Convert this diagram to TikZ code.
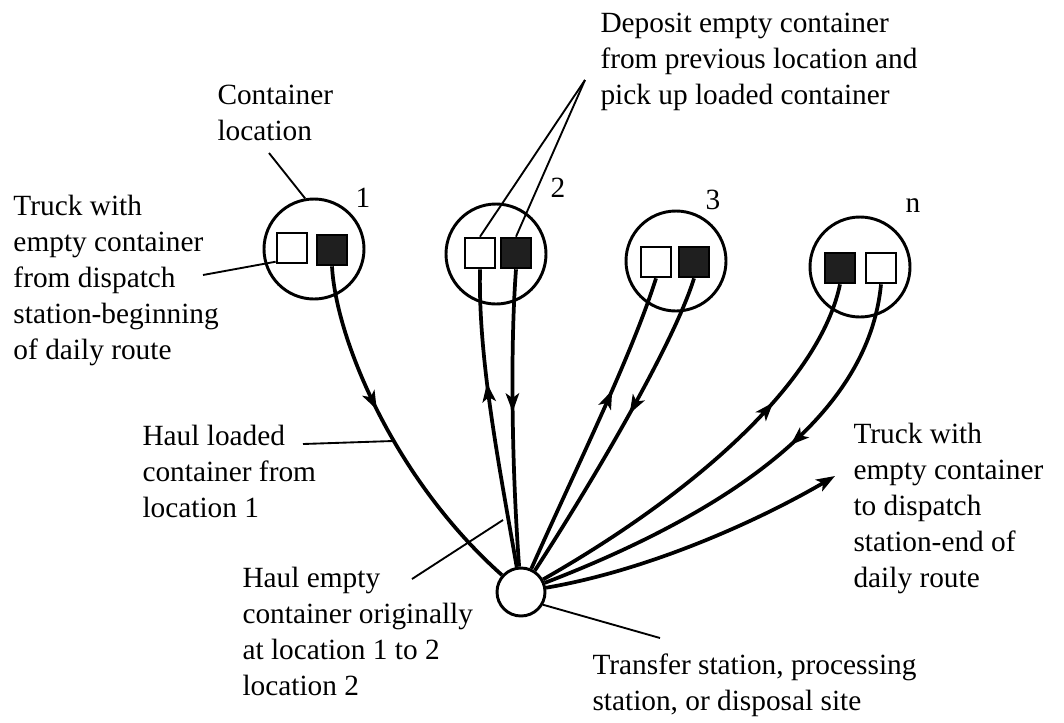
\documentclass[tikz,border=0pt]{standalone}
\usepackage{fontspec}
\setmainfont{Liberation Serif}
\usetikzlibrary{arrows.meta,decorations.markings}

\tikzset{every picture/.style={line width=0.75pt}}
\tikzset{
	site/.style={draw, circle, line width=2.2pt, minimum size=75pt, inner sep=0pt},
	depot/.style={draw, circle, line width=2.2pt, minimum size=36pt, inner sep=0pt, fill=white},
	emptybox/.style={draw, rectangle, line width=2pt, minimum size=22.5pt, inner sep=0pt, fill=white},
	fullbox/.style={emptybox, fill=black!88},
	route/.style={line width=2.8pt},
	leader/.style={line width=1.4pt},
	midarrow/.style={postaction={decorate}, decoration={markings, mark=at position #1 with {\arrow{Stealth[length=14pt,width=10pt,inset=3.5pt]}}}},
	txt/.style={anchor=north west, align=left, inner sep=0pt, font=\fontsize{22}{27}\selectfont},
	num/.style={inner sep=0pt, font=\fontsize{22}{27}\selectfont}
}

\begin{document}
\begin{tikzpicture}[x=0.75pt,y=0.75pt,yscale=-1,xscale=1]
	\useasboundingbox (0,0) rectangle (1064,722);
	
	%Shape: Circle [container locations]
	\node[site] (loc1) at (314,249) {};
	\node[site] (loc2) at (496,254) {};
	\node[site] (loc3) at (676,261) {};
	\node[site] (locn) at (860,267) {};
	%Shape: Circle [transfer station]
	\node[depot] (dep) at (521,592) {};
	
	%Shape: Square [containers]
	\node[emptybox] (empty1) at (292,248) {};
	\node[fullbox] (full1) at (332,250) {};
	\node[emptybox] (empty2) at (480,253) {};
	\node[fullbox] (full2) at (516,253) {};
	\node[emptybox] (empty3) at (656,262) {};
	\node[fullbox] (full3) at (694,262) {};
	\node[fullbox] (fulln) at (840,268) {};
	\node[emptybox] (emptyn) at (881,268) {};
	
	%Curve Lines [routes]
	\draw[route, midarrow=0.42] (full1.south) .. controls (336,340) and (395,480) .. (dep);
	\draw[route, midarrow=0.62] (dep) .. controls (500,470) and (478,360) .. (empty2.south);
	\draw[route, midarrow=0.48] (full2.south) .. controls (510,350) and (512,470) .. (dep);
	\draw[route, midarrow=0.62] (dep) .. controls (575,470) and (630,360) .. (empty3.south);
	\draw[route, midarrow=0.45] (full3.south) .. controls (675,340) and (600,470) .. (dep);
	\draw[route, midarrow=0.68] (dep) .. controls (700,490) and (820,380) .. (fulln.south);
	\draw[route, midarrow=0.40] (emptyn.south) .. controls (870,400) and (760,500) .. (dep);
	\coordinate (back) at (835,476);
	\draw[route, -{Stealth[length=14pt,width=10pt,inset=3.5pt]}] (dep) .. controls (650,570) and (760,520) .. (back);
	
	%Straight Lines [leaders]
	\coordinate (contend) at (269,153);
	\coordinate (truckend) at (203,275);
	\coordinate (apex) at (585,80);
	\coordinate (loadstart) at (303,444);
	\coordinate (loadend) at (393,441);
	\coordinate (emptystart) at (412,579);
	\coordinate (emptyend) at (503,520);
	\coordinate (siteend) at (660,638);
	\draw[leader] (contend) -- (loc1.100);
	\draw[leader] (truckend) -- (empty1.220);
	\draw[leader] (apex) -- (empty2.north);
	\draw[leader] (apex) -- (full2.north);
	\draw[leader] (loadstart) -- (loadend);
	\draw[leader] (emptystart) -- (emptyend);
	\draw[leader] (dep.-30) -- (siteend);
	
	% Text Node
	\node[num] (n1) at (363,198) {1};
	\node[num] (n2) at (558,188) {2};
	\node[num] (n3) at (713,200) {3};
	\node[num] (nn) at (913,206) {n};
	% Text Node
	\node[txt] (cont) at (217,85) {Container\\location};
	\node[txt] (truckin) at (13,195) {Truck with\\empty container\\from dispatch\\station-beginning\\of daily route};
	\node[txt] (deposit) at (600,13) {Deposit empty container\\from previous location and\\pick up loaded container};
	\node[txt] (haulload) at (142,425) {Haul loaded\\container from\\location 1};
	\node[txt] (haulempty) at (242,567) {Haul empty\\container originally\\at location 1 to 2\\location 2};
	\node[txt] (station) at (592,653) {Transfer station, processing\\station, or disposal site};
	\node[txt] (truckout) at (853,423) {Truck with\\empty container\\to dispatch\\station-end of\\daily route};
	
\end{tikzpicture}
\end{document}
